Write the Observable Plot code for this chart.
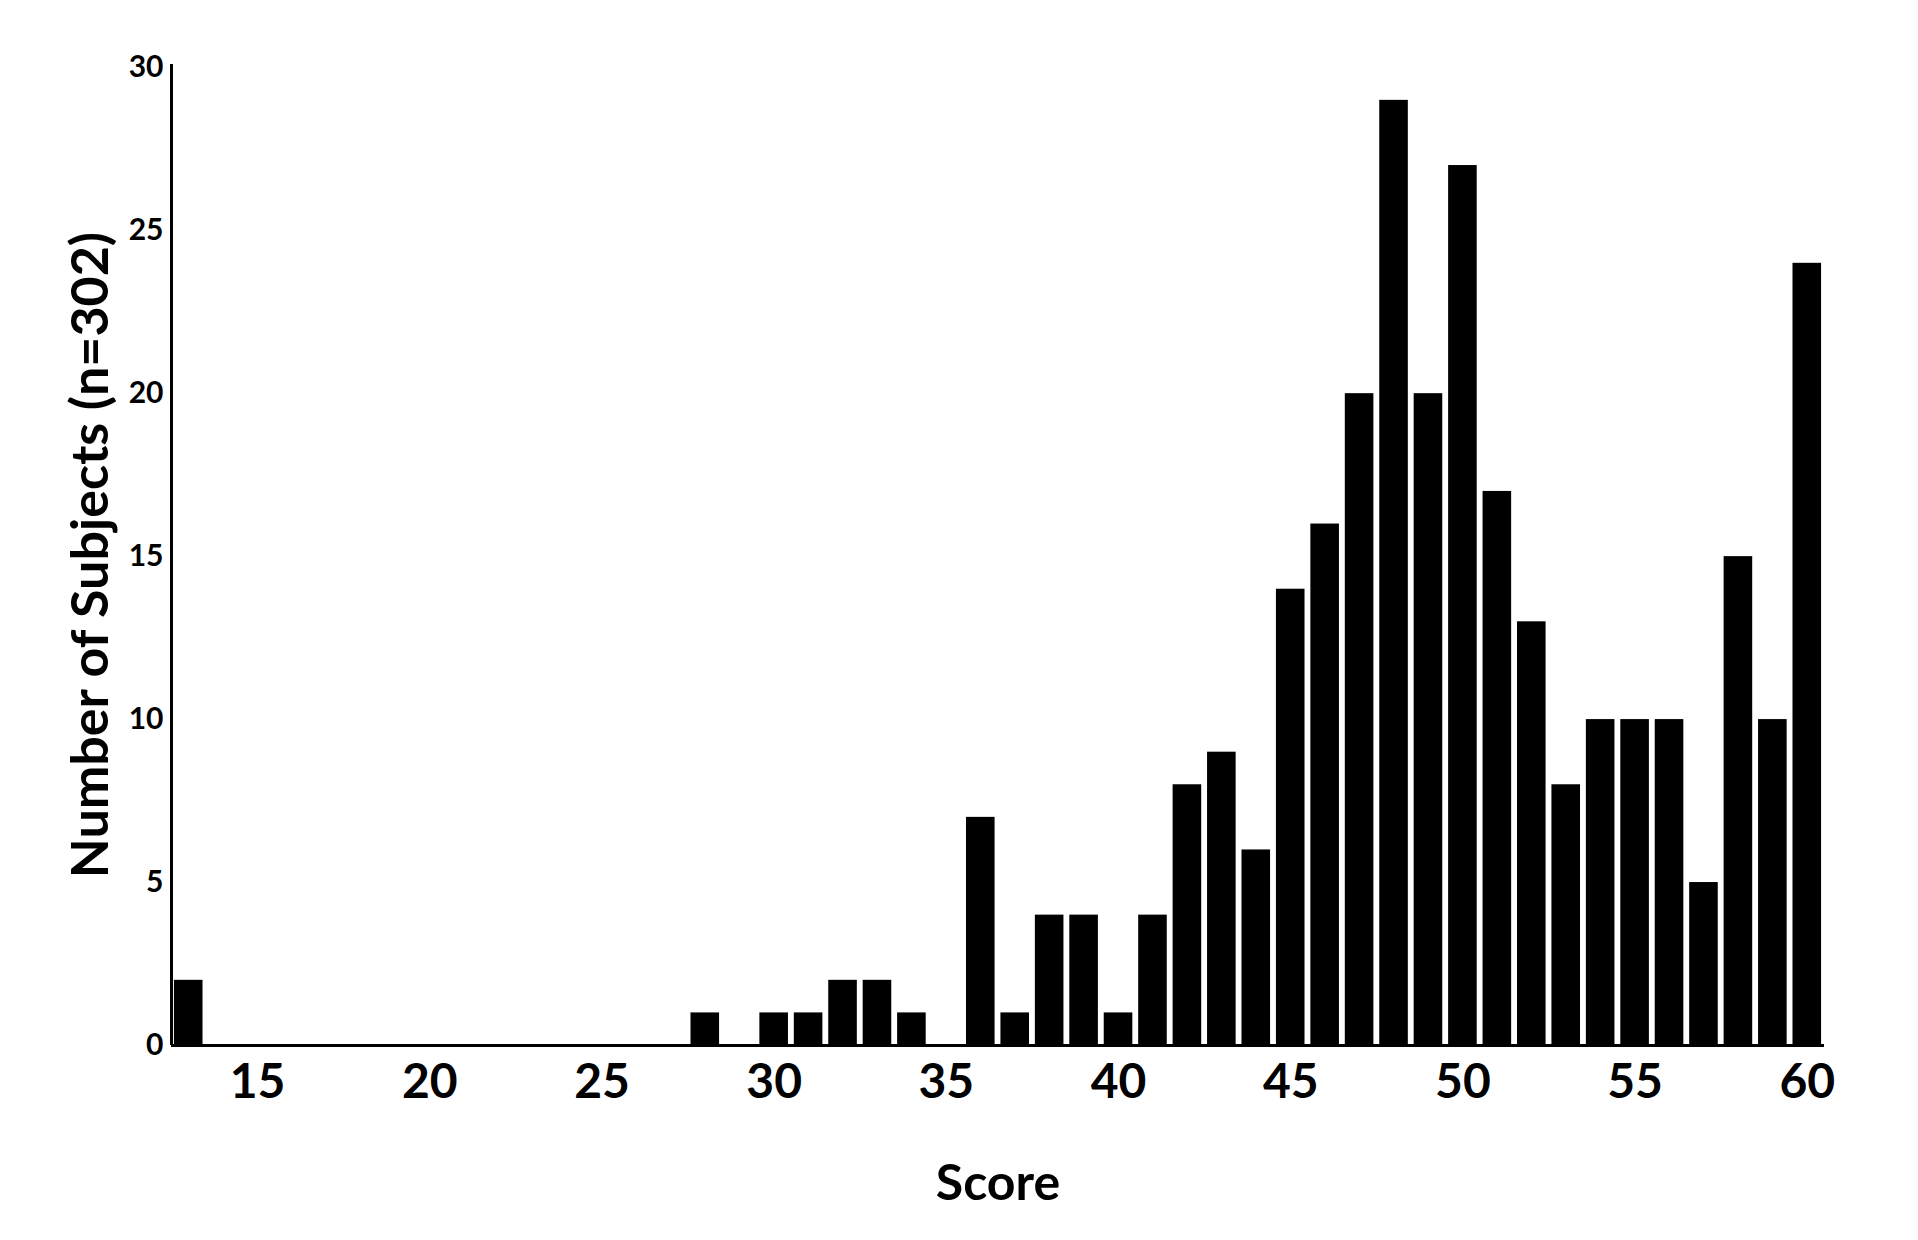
<!DOCTYPE html>
<html>
<head>
<meta charset="utf-8">
<script src="https://cdn.jsdelivr.net/npm/d3@7"></script>
<script src="https://cdn.jsdelivr.net/npm/@observablehq/plot@0.6"></script>
<style>
  html, body { margin: 0; padding: 0; background: #fff; }
</style>
</head>
<body>
<div id="chart"></div>
<script>
const scores = [13, 14, 15, 16, 17, 18, 19, 20, 21, 22, 23, 24, 25, 26, 27, 28, 29, 30,
  31, 32, 33, 34, 35, 36, 37, 38, 39, 40, 41, 42, 43, 44, 45, 46, 47, 48, 49, 50,
  51, 52, 53, 54, 55, 56, 57, 58, 59, 60];
const counts = [2, 0, 0, 0, 0, 0, 0, 0, 0, 0, 0, 0, 0, 0, 0, 1, 0, 1,
  1, 2, 2, 1, 0, 7, 1, 4, 4, 1, 4, 8, 9, 6, 14, 16, 20, 29, 20, 27,
  17, 13, 8, 10, 10, 10, 5, 15, 10, 24];
const xTicks = [15, 20, 25, 30, 35, 40, 45, 50, 55, 60];
const yTicks = [0, 5, 10, 15, 20, 25, 30];
const xTitle = "Score";
const yTitle = "Number of Subjects (n=302)";

const data = scores.map((s, i) => ({score: s, count: counts[i]}));
const halfWidth = 0.415;

const chart = Plot.plot({
  width: 1918,
  height: 1240,
  marginLeft: 171,
  marginRight: 94,
  marginTop: 64,
  marginBottom: 195,
  style: {fontFamily: "Lato, 'Open Sans', sans-serif", fontWeight: "bold", background: "#fff", color: "#000"},
  x: {type: "linear", domain: [12.5, 60.5]},
  y: {domain: [0, 30.1]},
  marks: [
    Plot.rectY(data, {x1: d => d.score - halfWidth, x2: d => d.score + halfWidth, y: "count", fill: "#000"}),
    Plot.axisX({ticks: xTicks, tickSize: 0, tickPadding: 18, fontSize: 48, label: null, tickFormat: d => String(d)}),
    Plot.axisY({ticks: yTicks, tickSize: 0, tickPadding: 8, fontSize: 30, label: null, tickFormat: d => String(d)}),
    Plot.ruleY([0], {stroke: "#000", strokeWidth: 3}),
    Plot.ruleX([12.5], {stroke: "#000", strokeWidth: 3}),
    Plot.text([xTitle], {frameAnchor: "bottom", dy: 154, fontSize: 50, fontWeight: "bold", fill: "#000"}),
    Plot.text([yTitle], {frameAnchor: "left", textAnchor: "middle", dx: -80, rotate: -90, fontSize: 52, fontWeight: "bold", fill: "#000"})
  ]
});
document.getElementById("chart").appendChild(chart);
</script>
</body>
</html>
